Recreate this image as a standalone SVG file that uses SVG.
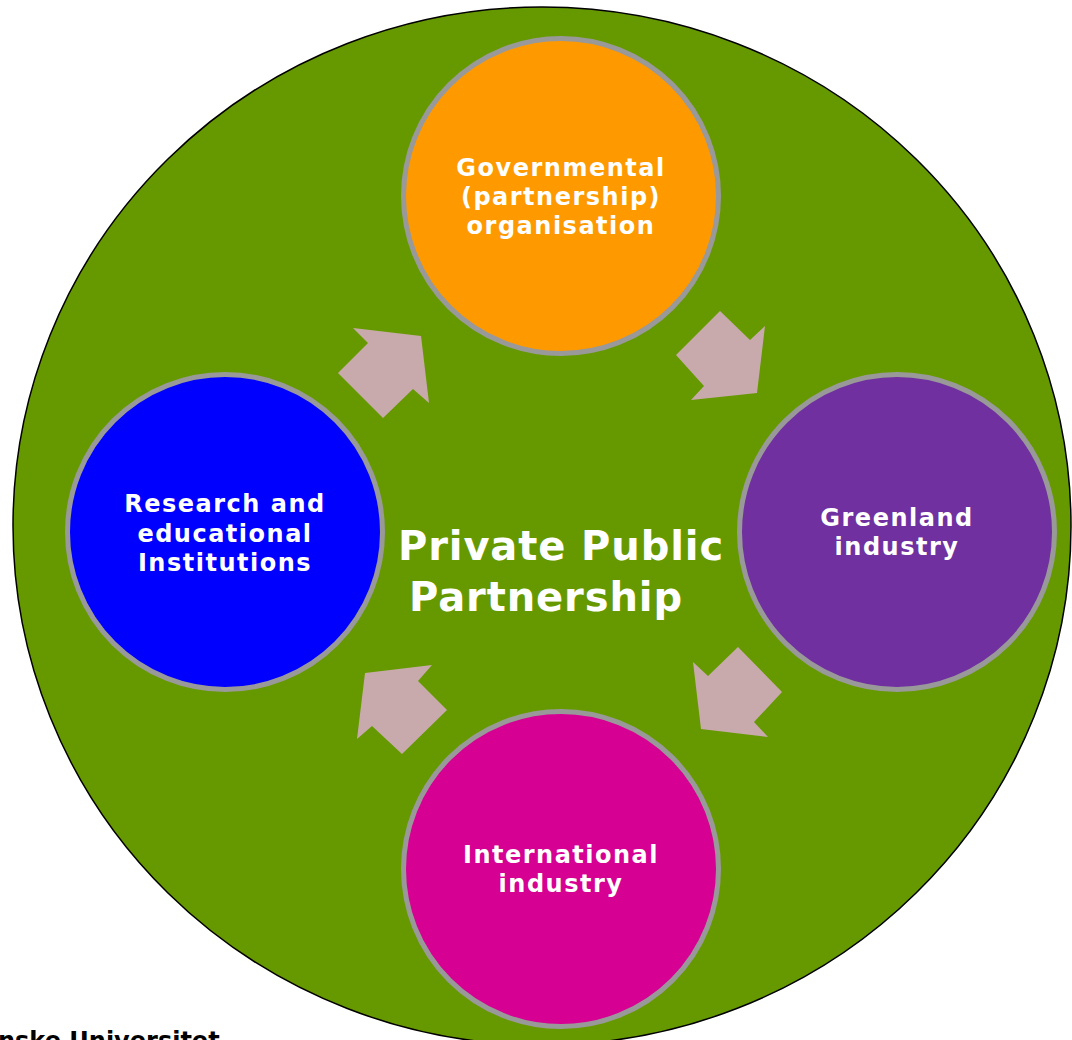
<svg xmlns="http://www.w3.org/2000/svg" width="1072" height="1040" viewBox="0 0 1072 1040">
<style>
.node{stroke:#999999;stroke-width:5}
.lbl{font-family:"DejaVu Sans","Verdana",sans-serif;font-weight:bold;font-size:24px;fill:#ffffff;text-anchor:middle;letter-spacing:1.5px}
.center{font-family:"DejaVu Sans","Verdana",sans-serif;font-weight:bold;font-size:40px;fill:#ffffff;text-anchor:middle;letter-spacing:0.9px}
.arrow{fill:#C8AAAC}
.foot{font-family:"DejaVu Sans","Verdana",sans-serif;font-weight:bold;font-size:24px;fill:#000000}
</style>
<rect width="1072" height="1040" fill="#ffffff"/>
<g id="background">
<ellipse cx="542" cy="526" rx="529" ry="519" fill="#669900" stroke="#000000" stroke-width="1.5"/>
<text class="center" x="561" y="560">Private Public</text>
<text class="center" x="546" y="611">Partnership</text>
</g>
<g id="connectors">
<polygon class="arrow" points="383,418 338,373 368,343 353,328 421,336 429,403 413,389"/>
<polygon class="arrow" points="720,311 750,340 765,326 757,393 691,400 704,386 676,355"/>
<polygon class="arrow" points="738,647 782,692 754,722 768,737 701,729 693,662 708,676"/>
<polygon class="arrow" points="402,754 447,710 418,681 432,665 365,673 357,739 372,726"/>
</g>
<g id="node-governmental">
<circle class="node" cx="561" cy="196" r="157.5" fill="#FF9900"/>
<text class="lbl" x="561" y="176">Governmental</text>
<text class="lbl" x="561" y="205">(partnership)</text>
<text class="lbl" x="561" y="234">organisation</text>
</g>
<g id="node-research">
<circle class="node" cx="225" cy="532" r="157.5" fill="#0000FF"/>
<text class="lbl" x="225" y="512">Research and</text>
<text class="lbl" x="225" y="542">educational</text>
<text class="lbl" x="225" y="571">Institutions</text>
</g>
<g id="node-greenland">
<circle class="node" cx="897" cy="532" r="157.5" fill="#7030A0"/>
<text class="lbl" x="897" y="526">Greenland</text>
<text class="lbl" x="897" y="555">industry</text>
</g>
<g id="node-international">
<circle class="node" cx="561" cy="869" r="157.5" fill="#D60093"/>
<text class="lbl" x="561" y="863">International</text>
<text class="lbl" x="561" y="892">industry</text>
</g>
<text class="foot" x="-2" y="1049">nske Universitet</text>
</svg>
